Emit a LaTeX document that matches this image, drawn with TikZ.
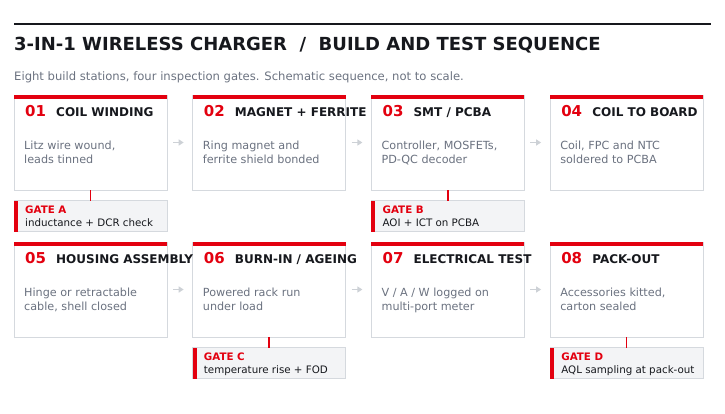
\documentclass[tikz,border=0pt]{standalone}
\usepackage{fontspec}
\setmainfont{DejaVu Sans}
\usetikzlibrary{positioning,arrows.meta}

\definecolor{accent}{HTML}{E3000F}
\definecolor{ink}{HTML}{16181D}
\definecolor{muted}{HTML}{6B7280}
\definecolor{rulegray}{HTML}{D5D9DE}
\definecolor{gatefill}{HTML}{F3F4F6}
\definecolor{flowgray}{HTML}{CDD1D6}

\begin{document}
\begin{tikzpicture}[x=1pt,y=-1pt,
  station/.style={draw=rulegray, line width=0.8pt, fill=white, minimum width=153pt, minimum height=95pt, inner sep=0pt, outer sep=0pt, anchor=north west},
  gatebox/.style={draw=rulegray, line width=0.8pt, fill=gatefill, minimum width=153pt, minimum height=31pt, inner sep=0pt, outer sep=0pt},
  num/.style={anchor=base west, inner sep=0pt, font=\fontsize{15}{15}\selectfont\bfseries, text=accent},
  head/.style={anchor=base west, inner sep=0pt, font=\fontsize{12}{12}\selectfont\bfseries, text=ink},
  desc/.style={anchor=base west, inner sep=0pt, align=left, font=\fontsize{11.2}{14}\selectfont, text=muted},
  gatetext/.style={anchor=base west, inner sep=0pt, align=left, font=\fontsize{10.3}{12.4}\selectfont, text=ink},
  flow/.style={draw=flowgray, line width=1.6pt, -{Triangle[length=5pt,width=6pt]}, shorten <=6pt, shorten >=9pt},
  tie/.style={draw=accent, line width=1.6pt}]

\useasboundingbox (0,0) rectangle (725,413);

% heading
\draw[ink, line width=2.4pt] (14,24) -- (711,24);
\node[anchor=base west, inner sep=0pt, font=\fontsize{18}{20}\selectfont\bfseries, text=ink] (title) at (14,50.7) {3-IN-1 WIRELESS CHARGER \ / \ BUILD AND TEST SEQUENCE};
\node[anchor=base west, inner sep=0pt, font=\fontsize{11.6}{13}\selectfont, text=muted] (subtitle) at (14,80.5) {Eight build stations, four inspection gates. Schematic sequence, not to scale.};

% stations
\node[station] (s1) at (14,95) {};
\node[station, right=25.7pt of s1] (s2) {};
\node[station, right=25.7pt of s2] (s3) {};
\node[station, right=25.7pt of s3] (s4) {};
\node[station] (s5) at (14,242) {};
\node[station, right=25.7pt of s5] (s6) {};
\node[station, right=25.7pt of s6] (s7) {};
\node[station, right=25.7pt of s7] (s8) {};

\foreach \s in {s1,s2,s3,s4,s5,s6,s7,s8}
  \fill[accent] (\s.north west) rectangle ([yshift=-4pt]\s.north east);

% gates
\node[gatebox, below=10.5pt of s1] (gA) {};
\node[gatebox, below=10.5pt of s3] (gB) {};
\node[gatebox, below=10.5pt of s6] (gC) {};
\node[gatebox, below=10.5pt of s8] (gD) {};

\foreach \g in {gA,gB,gC,gD}
  \fill[accent] (\g.north west) rectangle ([xshift=4pt]\g.south west);

% flow
\draw[flow] (s1) -- (s2);
\draw[flow] (s2) -- (s3);
\draw[flow] (s3) -- (s4);
\draw[flow] (s5) -- (s6);
\draw[flow] (s6) -- (s7);
\draw[flow] (s7) -- (s8);

\draw[tie] (s1) -- (gA);
\draw[tie] (s3) -- (gB);
\draw[tie] (s6) -- (gC);
\draw[tie] (s8) -- (gD);

% station texts (base = last line)
\node[num] (n1) at ([shift={(11,21.5)}]s1.north west) {01};
\node[head] (t1) at ([shift={(42,21.5)}]s1.north west) {COIL WINDING};
\node[desc] (d1) at ([shift={(10,68.5)}]s1.north west) {Litz wire wound,\\leads tinned};

\node[num] (n2) at ([shift={(11,21.5)}]s2.north west) {02};
\node[head] (t2) at ([shift={(42,21.5)}]s2.north west) {MAGNET + FERRITE};
\node[desc] (d2) at ([shift={(10,68.5)}]s2.north west) {Ring magnet and\\ferrite shield bonded};

\node[num] (n3) at ([shift={(11,21.5)}]s3.north west) {03};
\node[head] (t3) at ([shift={(42,21.5)}]s3.north west) {SMT / PCBA};
\node[desc] (d3) at ([shift={(10,68.5)}]s3.north west) {Controller, MOSFETs,\\PD-QC decoder};

\node[num] (n4) at ([shift={(11,21.5)}]s4.north west) {04};
\node[head] (t4) at ([shift={(42,21.5)}]s4.north west) {COIL TO BOARD};
\node[desc] (d4) at ([shift={(10,68.5)}]s4.north west) {Coil, FPC and NTC\\soldered to PCBA};

\node[num] (n5) at ([shift={(11,21.5)}]s5.north west) {05};
\node[head] (t5) at ([shift={(42,21.5)}]s5.north west) {HOUSING ASSEMBLY};
\node[desc] (d5) at ([shift={(10,68.5)}]s5.north west) {Hinge or retractable\\cable, shell closed};

\node[num] (n6) at ([shift={(11,21.5)}]s6.north west) {06};
\node[head] (t6) at ([shift={(42,21.5)}]s6.north west) {BURN-IN / AGEING};
\node[desc] (d6) at ([shift={(10,68.5)}]s6.north west) {Powered rack run\\under load};

\node[num] (n7) at ([shift={(11,21.5)}]s7.north west) {07};
\node[head] (t7) at ([shift={(42,21.5)}]s7.north west) {ELECTRICAL TEST};
\node[desc] (d7) at ([shift={(10,68.5)}]s7.north west) {V / A / W logged on\\multi-port meter};

\node[num] (n8) at ([shift={(11,21.5)}]s8.north west) {08};
\node[head] (t8) at ([shift={(42,21.5)}]s8.north west) {PACK-OUT};
\node[desc] (d8) at ([shift={(10,68.5)}]s8.north west) {Accessories kitted,\\carton sealed};

% gate texts
\node[gatetext] (la) at ([shift={(11,25.7)}]gA.north west) {\textcolor{accent}{\bfseries GATE A}\\inductance + DCR check};
\node[gatetext] (lb) at ([shift={(11,25.7)}]gB.north west) {\textcolor{accent}{\bfseries GATE B}\\AOI + ICT on PCBA};
\node[gatetext] (lc) at ([shift={(11,25.7)}]gC.north west) {\textcolor{accent}{\bfseries GATE C}\\temperature rise + FOD};
\node[gatetext] (ld) at ([shift={(11,25.7)}]gD.north west) {\textcolor{accent}{\bfseries GATE D}\\AQL sampling at pack-out};

\end{tikzpicture}
\end{document}
